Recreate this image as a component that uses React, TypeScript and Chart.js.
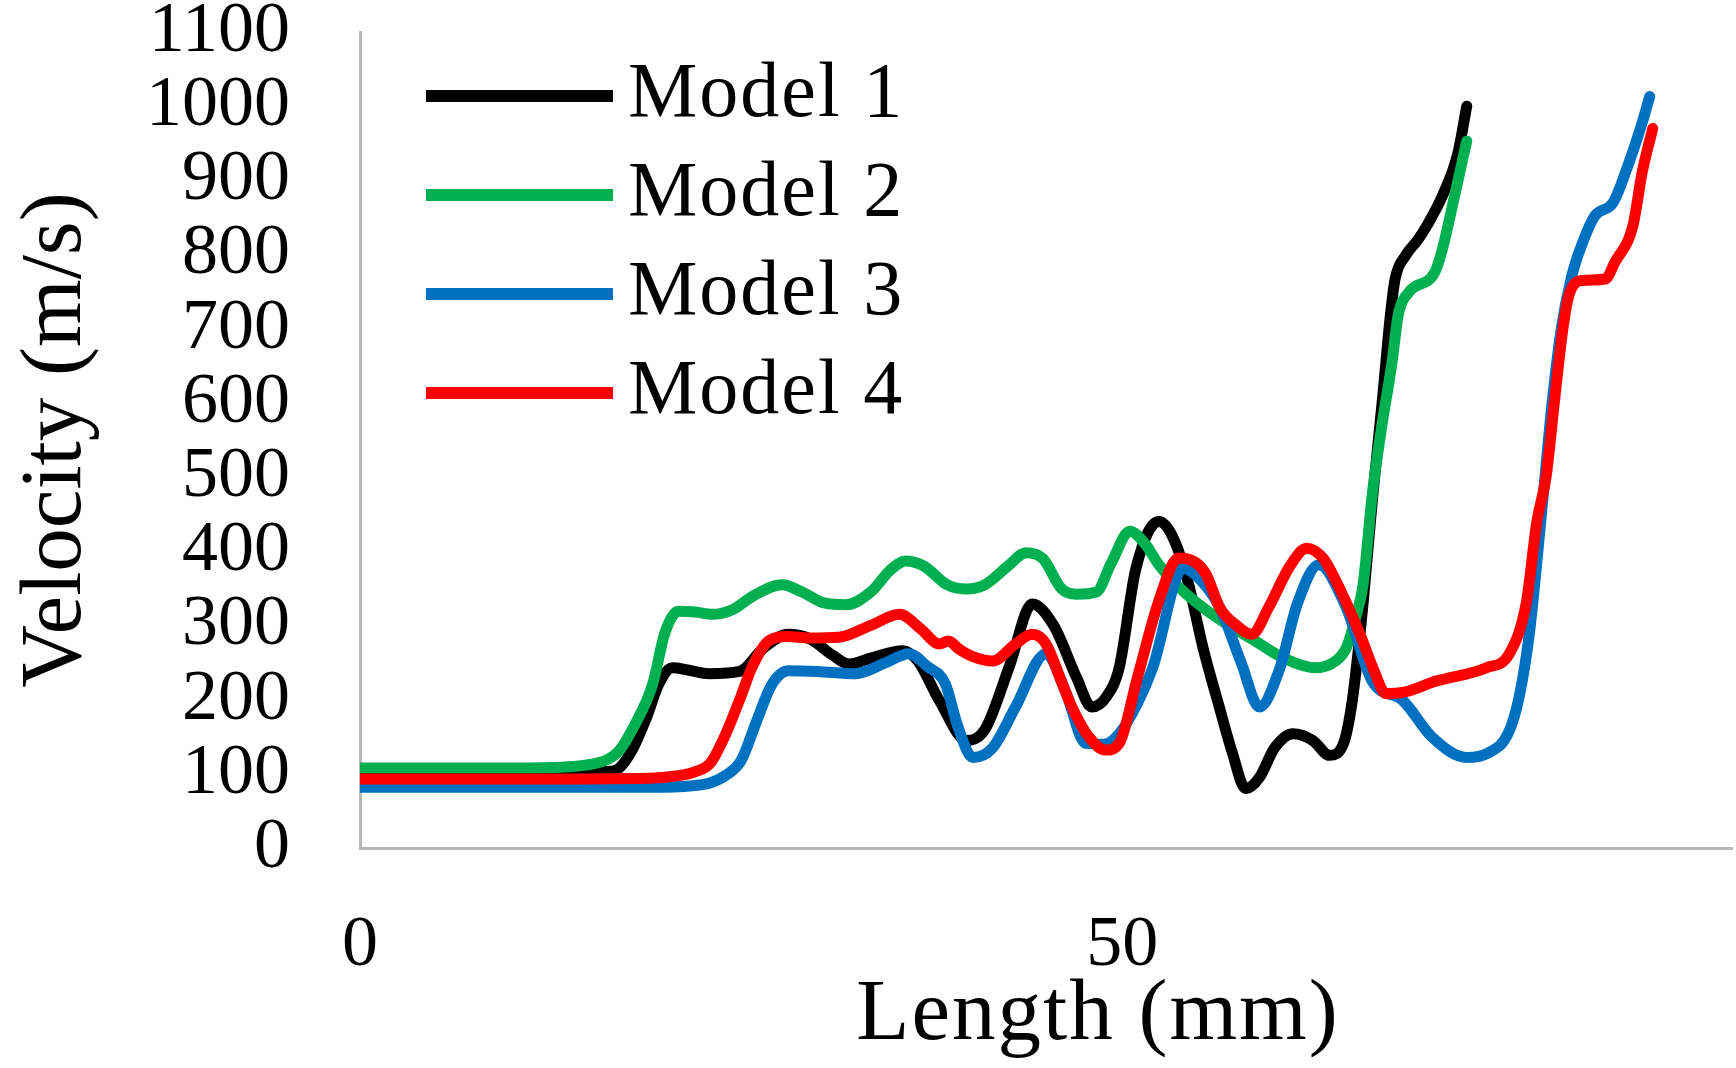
import React, { useEffect, useRef } from 'react';
import { Chart, registerables } from 'chart.js';

Chart.register(...registerables);

const seriesLabels = ['Model 1', 'Model 2', 'Model 3', 'Model 4'];
const seriesColors = ['#000000', '#00b050', '#0070c0', '#ff0000'];

const model1Length = [0, 10, 16, 16.8, 17.8, 18.8, 19.6, 20.5, 21.5, 22.9, 24.9, 26.5, 28.1, 29.5, 31, 32.1, 33.5, 35.6, 36.6, 38, 39.8, 41, 42.6, 44.1, 45.5, 47, 48, 49, 49.8, 50.9, 52.4, 53.3, 54.3, 55.3, 56.3, 57.2, 58.1, 59, 60, 61.2, 62.5, 63.6, 64.5, 65.1, 65.8, 66.4, 67.1, 67.6, 67.9, 68.6, 69.4, 70.1, 71, 72, 72.6];
const model1Velocity = [103, 103, 103, 105, 130, 176, 221, 243, 240, 235, 238, 270, 288, 282, 260, 248, 256, 266, 252, 199, 145, 160, 245, 329, 300, 230, 190, 205, 243, 377, 440, 420, 360, 270, 195, 130, 80, 95, 135, 154, 145, 125, 140, 200, 330, 467, 611, 720, 767, 799, 820, 843, 879, 935, 1000];

const model2Length = [0, 10, 14, 15.2, 16.3, 17, 18, 19.2, 20, 20.9, 22, 23.1, 24.5, 25.8, 27.7, 29, 30.5, 31.9, 33.5, 34.8, 35.8, 37, 38.5, 39.8, 41, 42.5, 43.7, 44.8, 46, 47, 48.3, 49.3, 50.5, 51.5, 52.4, 53.8, 55.3, 57, 58.8, 60.5, 62.7, 64, 64.7, 65.3, 65.8, 66.4, 67, 67.7, 68.1, 68.8, 70.5, 71, 71.8, 72.6];
const model2Velocity = [108, 108, 110, 113, 120, 131, 165, 221, 290, 319, 318, 315, 322, 340, 355, 345, 330, 328, 345, 375, 387, 380, 355, 349, 355, 380, 398, 390, 350, 342, 345, 385, 427, 410, 382, 350, 324, 300, 278, 257, 243, 252, 270, 310, 355, 476, 565, 655, 718, 749, 776, 807, 879, 953];

const model3Length = [0, 10, 19, 21.8, 23, 24, 25, 26, 27, 28.1, 30, 32.5, 34.5, 36, 37.2, 38.4, 39.2, 40.2, 41.5, 43, 45, 46.3, 47.6, 48.8, 49.8, 51, 52, 54, 55.2, 56.4, 57.8, 59, 60.3, 61.5, 62.9, 64.7, 66.4, 68.4, 70.3, 72.6, 74, 75.3, 76, 76.7, 77.5, 78.2, 78.8, 79.5, 80.2, 81, 82.2, 83, 84.1, 84.6];
const model3Velocity = [82, 82, 82, 84, 88, 98, 118, 170, 220, 239, 238, 235, 250, 262, 245, 221, 165, 122, 135, 190, 262, 210, 141, 140, 154, 195, 243, 377, 360, 324, 250, 190, 240, 330, 382, 324, 225, 199, 150, 122, 128, 154, 200, 288, 450, 600, 700, 772, 816, 852, 870, 910, 977, 1013];

const model4Length = [0, 10, 19, 20.7, 22, 23, 24, 25, 25.7, 26.8, 28, 29.5, 31.4, 33.5, 35.4, 36.8, 38, 38.6, 39.3, 40.2, 41.5, 43, 44.1, 45, 46, 46.7, 47.8, 48.9, 49.8, 51, 52.4, 53.7, 54.8, 55.5, 56.4, 57.5, 58.5, 59.6, 61, 62.1, 63.2, 63.8, 65.6, 66.5, 67.3, 68.5, 70.6, 73.9, 75.4, 76.5, 77.2, 77.8, 78.4, 78.9, 79.3, 80.2, 81.7, 82.3, 83.5, 84.1, 84.8];
const model4Velocity = [93, 93, 94, 97, 103, 115, 154, 205, 243, 279, 285, 283, 284, 300, 315, 295, 275, 279, 268, 258, 252, 275, 288, 275, 225, 190, 150, 132, 141, 230, 333, 391, 385, 369, 324, 300, 288, 324, 380, 404, 390, 369, 288, 240, 208, 210, 225, 243, 262, 330, 440, 500, 611, 699, 745, 765, 767, 789, 839, 910, 970];

const xAxisTitle = 'Length (mm)';
const yAxisTitle = 'Velocity (m/s)';
const xMin = 0;
const xMax = 90;
const xStep = 50;
const yMin = 0;
const yMax = 1100;
const yStep = 100;

const seriesLengths = [model1Length, model2Length, model3Length, model4Length];
const seriesVelocities = [model1Velocity, model2Velocity, model3Velocity, model4Velocity];

const FONT = '"Liberation Serif", "Times New Roman", serif';
const AXIS_GRAY = '#b8b8b8';

const insetLegend = {
  id: 'insetLegend',
  afterDatasetsDraw(chart: any) {
    const { ctx, chartArea } = chart;
    const items = chart.data.datasets.slice()
      .sort((a: any, b: any) => a.legendIndex - b.legendIndex);
    ctx.save();
    items.forEach((ds: any, row: number) => {
      const y = chartArea.top + 64 + row * 99;
      ctx.strokeStyle = ds.borderColor;
      ctx.lineWidth = 12;
      ctx.lineCap = 'butt';
      ctx.beginPath();
      ctx.moveTo(chartArea.left + 66, y);
      ctx.lineTo(chartArea.left + 253, y);
      ctx.stroke();
      ctx.fillStyle = '#000000';
      ctx.font = `78px ${FONT}`;
      (ctx as any).letterSpacing = '2px';
      ctx.textAlign = 'left';
      ctx.textBaseline = 'middle';
      ctx.fillText(ds.label, chartArea.left + 268, y);
    });
    ctx.restore();
  },
};

const xTitlePlugin = {
  id: 'xTitle',
  afterDraw(chart: any) {
    const { ctx, chartArea } = chart;
    ctx.save();
    ctx.fillStyle = '#000000';
    ctx.font = `87px ${FONT}`;
    (ctx as any).letterSpacing = '2px';
    ctx.textAlign = 'center';
    ctx.textBaseline = 'middle';
    ctx.fillText(xAxisTitle, (chartArea.left + chartArea.right) / 2 + 52, chartArea.bottom + 168);
    ctx.restore();
  },
};

export default function App() {
  const canvasRef = useRef<HTMLCanvasElement | null>(null);

  useEffect(() => {
    document.body.style.margin = '0';
    const canvas = canvasRef.current;
    if (!canvas) return;

    const datasets = seriesLabels.map((label, i) => ({
      label,
      legendIndex: i,
      data: seriesLengths[i].map((x, j) => ({ x, y: seriesVelocities[i][j] })),
      borderColor: seriesColors[i],
      backgroundColor: seriesColors[i],
      borderWidth: 11,
      pointRadius: 0,
      pointHoverRadius: 0,
      fill: false,
      cubicInterpolationMode: 'monotone' as const,
      borderJoinStyle: 'round' as const,
      borderCapStyle: 'round' as const,
      order: seriesLabels.length - i,
    }));

    const chart = new Chart(canvas, {
      type: 'line',
      data: { datasets },
      plugins: [insetLegend, xTitlePlugin],
      options: {
        responsive: false,
        maintainAspectRatio: false,
        devicePixelRatio: 1,
        animation: false,
        layout: { padding: { top: 32, right: 4, bottom: 0, left: 0 } },
        plugins: {
          legend: { display: false },
          tooltip: { enabled: false },
          title: { display: false },
        },
        scales: {
          x: {
            type: 'linear',
            min: xMin,
            max: xMax,
            grid: { display: false, drawTicks: false },
            border: { display: true, color: AXIS_GRAY, width: 3 },
            ticks: {
              stepSize: xStep,
              includeBounds: false,
              padding: 62,
              color: '#000000',
              maxRotation: 0,
              autoSkip: false,
              font: { family: FONT, size: 72, lineHeight: 1 },
              callback: (v: any) => String(v),
            },
            title: { display: false, text: xAxisTitle },
            afterFit: (scale: any) => {
              scale.height = 220;
              scale.paddingLeft = 0;
              scale.paddingRight = 0;
            },
          },
          y: {
            type: 'linear',
            min: yMin,
            max: yMax,
            grid: { display: false, drawTicks: false },
            border: { display: true, color: AXIS_GRAY, width: 3 },
            ticks: {
              stepSize: yStep,
              padding: 70,
              color: '#000000',
              autoSkip: false,
              font: { family: FONT, size: 72, lineHeight: 1 },
              callback: (v: any) => String(v),
            },
            title: {
              display: true,
              text: yAxisTitle,
              color: '#000000',
              font: { family: FONT, size: 87, lineHeight: 1 },
              padding: { top: 14, bottom: 0 },
            },
            afterFit: (scale: any) => {
              scale.width = 360;
              scale.paddingTop = 0;
              scale.paddingBottom = 0;
            },
          },
        },
      },
    });

    return () => {
      chart.destroy();
    };
  }, []);

  return (
    <canvas
      ref={canvasRef}
      width={1736}
      height={1068}
      style={{ display: 'block', width: 1736, height: 1068 }}
    />
  );
}
